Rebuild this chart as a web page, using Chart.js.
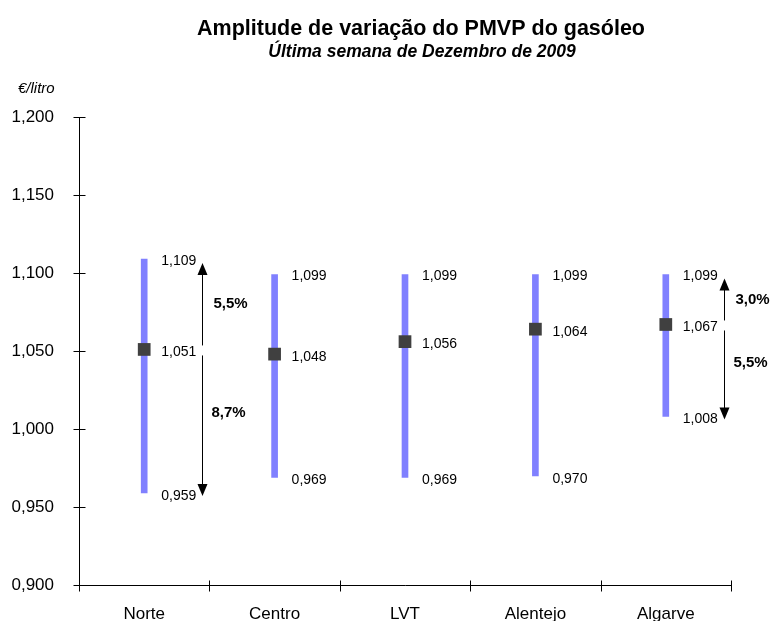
<!DOCTYPE html>
<html>
<head>
<meta charset="utf-8">
<script src="https://cdn.jsdelivr.net/npm/chart.js@4/dist/chart.umd.min.js"></script>
<style>
  html, body { margin: 0; padding: 0; background: #fff; }
  canvas { display: block; }
</style>
</head>
<body>
<canvas id="chart" width="775" height="621"></canvas>
<script>
// data
const regions  = ["Norte", "Centro", "LVT", "Alentejo", "Algarve"];
const maxPrice = [1.109, 1.099, 1.099, 1.099, 1.099];
const minPrice = [0.959, 0.969, 0.969, 0.970, 1.008];
const avgPrice = [1.051, 1.048, 1.056, 1.064, 1.067];
const pctAbove = ["5,5%", null, null, null, "3,0%"];
const pctBelow = ["8,7%", null, null, null, "5,5%"];
const yTicks   = [0.900, 0.950, 1.000, 1.050, 1.100, 1.150, 1.200];

const FONT = '"Liberation Sans", Arial, sans-serif';
Chart.defaults.font.family = FONT;
Chart.defaults.color = "#000";

const fmt = v => v.toFixed(3).replace(".", ",");

function arrow(ctx, x, from, tip) {
  const dir = from > tip ? 1 : -1;   // 1 = pointing up
  ctx.beginPath();
  ctx.moveTo(x, from);
  ctx.lineTo(x, tip + dir * 10);
  ctx.stroke();
  ctx.beginPath();
  ctx.moveTo(x, tip);
  ctx.lineTo(x - 5, tip + dir * 12);
  ctx.lineTo(x + 5, tip + dir * 12);
  ctx.closePath();
  ctx.fill();
}

// titles, axis lines with crossing ticks, value labels and arrows
const decor = {
  id: "decor",
  afterDraw(chart) {
    const { ctx, chartArea: a, scales: { x, y } } = chart;
    ctx.save();
    ctx.fillStyle = "#000";
    ctx.strokeStyle = "#000";
    ctx.lineWidth = 1;

    ctx.textAlign = "center";
    ctx.textBaseline = "alphabetic";
    ctx.font = "bold 21.5px " + FONT;
    ctx.fillText("Amplitude de variação do PMVP do gasóleo", 421, 35);
    ctx.font = "italic bold 17.5px " + FONT;
    ctx.fillText("Última semana de Dezembro de 2009", 422, 57);
    ctx.textAlign = "left";
    ctx.font = "italic 15px " + FONT;
    ctx.fillText("€/litro", 18, 93);

    // axes
    const left = Math.round(a.left) + 0.5;
    const bottom = Math.round(a.bottom) + 0.5;
    ctx.beginPath();
    ctx.moveTo(left, a.top);
    ctx.lineTo(left, bottom);
    ctx.lineTo(a.right, bottom);
    y.ticks.forEach((t, i) => {
      const py = Math.round(y.getPixelForTick(i)) + 0.5;
      ctx.moveTo(left - 6, py);
      ctx.lineTo(left + 6, py);
    });
    const step = (a.right - a.left) / regions.length;
    for (let i = 0; i <= regions.length; i++) {
      const px = Math.round(a.left + i * step) + 0.5;
      ctx.moveTo(px, bottom - 5);
      ctx.lineTo(px, bottom + 6);
    }
    ctx.stroke();

    // value labels
    ctx.font = "14px " + FONT;
    ctx.textBaseline = "middle";
    regions.forEach((r, i) => {
      const px = x.getPixelForValue(i) + 17;
      ctx.fillText(fmt(maxPrice[i]), px, y.getPixelForValue(maxPrice[i]) + 2);
      ctx.fillText(fmt(avgPrice[i]), px, y.getPixelForValue(avgPrice[i]) + 3);
      ctx.fillText(fmt(minPrice[i]), px, y.getPixelForValue(minPrice[i]) + 3);
    });

    // spread arrows
    ctx.font = "bold 15px " + FONT;
    regions.forEach((r, i) => {
      if (!pctAbove[i]) return;
      const ax = Math.round(x.getPixelForValue(i) + 58) + 0.5;
      const yMax = y.getPixelForValue(maxPrice[i]);
      const yAvg = y.getPixelForValue(avgPrice[i]);
      const yMin = y.getPixelForValue(minPrice[i]);
      arrow(ctx, ax, yAvg - 4, yMax + 4);
      arrow(ctx, ax, yAvg + 6, yMin + 3);
      ctx.fillText(pctAbove[i], ax + 11, (yAvg + yMax) / 2);
      ctx.fillText(pctBelow[i], ax + 9, (yAvg + yMin) / 2 - 8);
    });
    ctx.restore();
  }
};

new Chart(document.getElementById("chart"), {
  type: "bar",
  data: {
    labels: regions,
    datasets: [
      {
        type: "line",
        data: avgPrice,
        showLine: false,
        pointStyle: "rect",
        pointRadius: 9,
        pointBackgroundColor: "#404040",
        pointBorderColor: "#404040",
        pointBorderWidth: 0,
        order: 1
      },
      {
        data: regions.map((r, i) => [minPrice[i], maxPrice[i]]),
        backgroundColor: "#8080FF",
        barThickness: 6,
        borderWidth: 0,
        order: 2
      }
    ]
  },
  options: {
    responsive: false,
    animation: false,
    devicePixelRatio: 1,
    layout: { padding: { top: 117, right: 44, left: 0, bottom: 0 } },
    plugins: { legend: { display: false }, tooltip: { enabled: false }, title: { display: false } },
    scales: {
      x: {
        grid: { display: false },
        border: { display: false },
        ticks: { font: { size: 17 }, padding: 11, maxRotation: 0 },
        afterFit: s => { s.height = 36; }
      },
      y: {
        min: 0.9,
        max: 1.2,
        grid: { display: false },
        border: { display: false },
        afterBuildTicks: s => { s.ticks = yTicks.map(v => ({ value: v })); },
        ticks: { font: { size: 17 }, padding: 17, callback: v => fmt(v) },
        afterFit: s => { s.width = 79; }
      }
    }
  },
  plugins: [decor]
});
</script>
</body>
</html>
